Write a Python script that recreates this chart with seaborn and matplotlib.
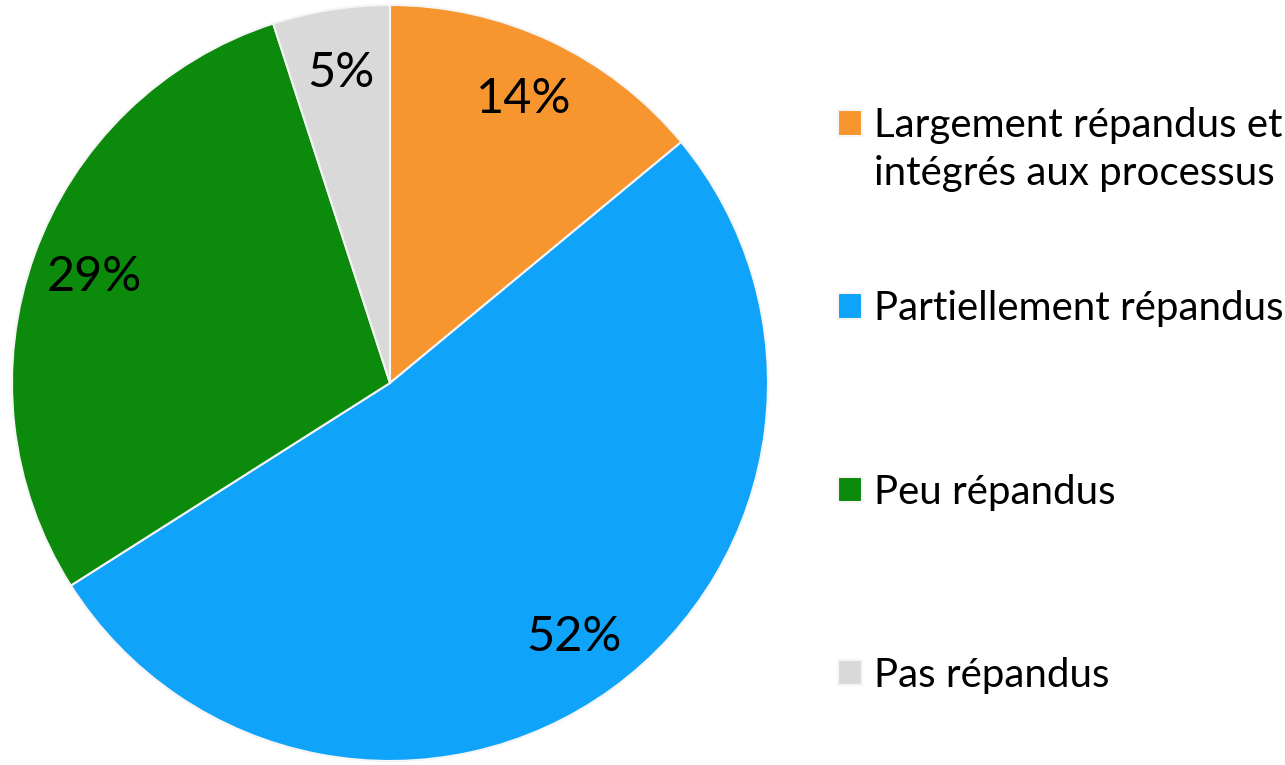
import matplotlib
matplotlib.use("Agg")
import matplotlib.pyplot as plt
import seaborn as sns

# Data
categories = ["Largement répandus et",
              "Partiellement répandus",
              "Peu répandus",
              "Pas répandus"]
first_label_cont = "intégrés aux processus"
shares = [14, 52, 29, 5]
colors = ["#F7952F", "#10A3FA", "#0C8A0C", "#D9D9D9"]

sns.set_theme(style="white")
plt.rcParams["font.family"] = ["Lato", "DejaVu Sans"]

fig = plt.figure(figsize=(12.85, 7.65), dpi=100)
# pie centred at about (390, 383) px with radius ~378 px
cx, cy, r = 390, 383, 378
W, H = 1285, 765
pad = 1.02
ax = fig.add_axes([(cx - r * pad) / W, (H - cy - r * pad) / H, 2 * r * pad / W, 2 * r * pad / H])

wedges, texts, autotexts = ax.pie(
    shares,
    colors=sns.color_palette(colors),
    startangle=90,
    counterclock=False,
    autopct="%d%%",
    pctdistance=0.83,
    wedgeprops=dict(edgecolor="#f5f5f5", linewidth=1.5),
    textprops=dict(fontsize=35, color="black"),
)
ax.set_xlim(-pad, pad)
ax.set_ylim(-pad, pad)
ax.set_aspect("equal")

leg = fig.legend(
    wedges, categories,
    loc="upper left",
    bbox_to_anchor=(822 / W, 1 - 91 / H),
    frameon=False,
    fontsize=29,
    labelcolor="black",
    handlelength=0.6,
    handleheight=0.6,
    handletextpad=0.3,
    labelspacing=3.63,
    borderaxespad=0,
)

# second line of the first legend entry, placed under its first line
fig.canvas.draw()
bb = leg.get_texts()[0].get_window_extent()
fig.text(bb.x0 / W, (bb.y0 - 48) / H, first_label_cont,
         fontsize=29, color="black", ha="left", va="bottom")

fig.savefig("out.png", dpi=100)
